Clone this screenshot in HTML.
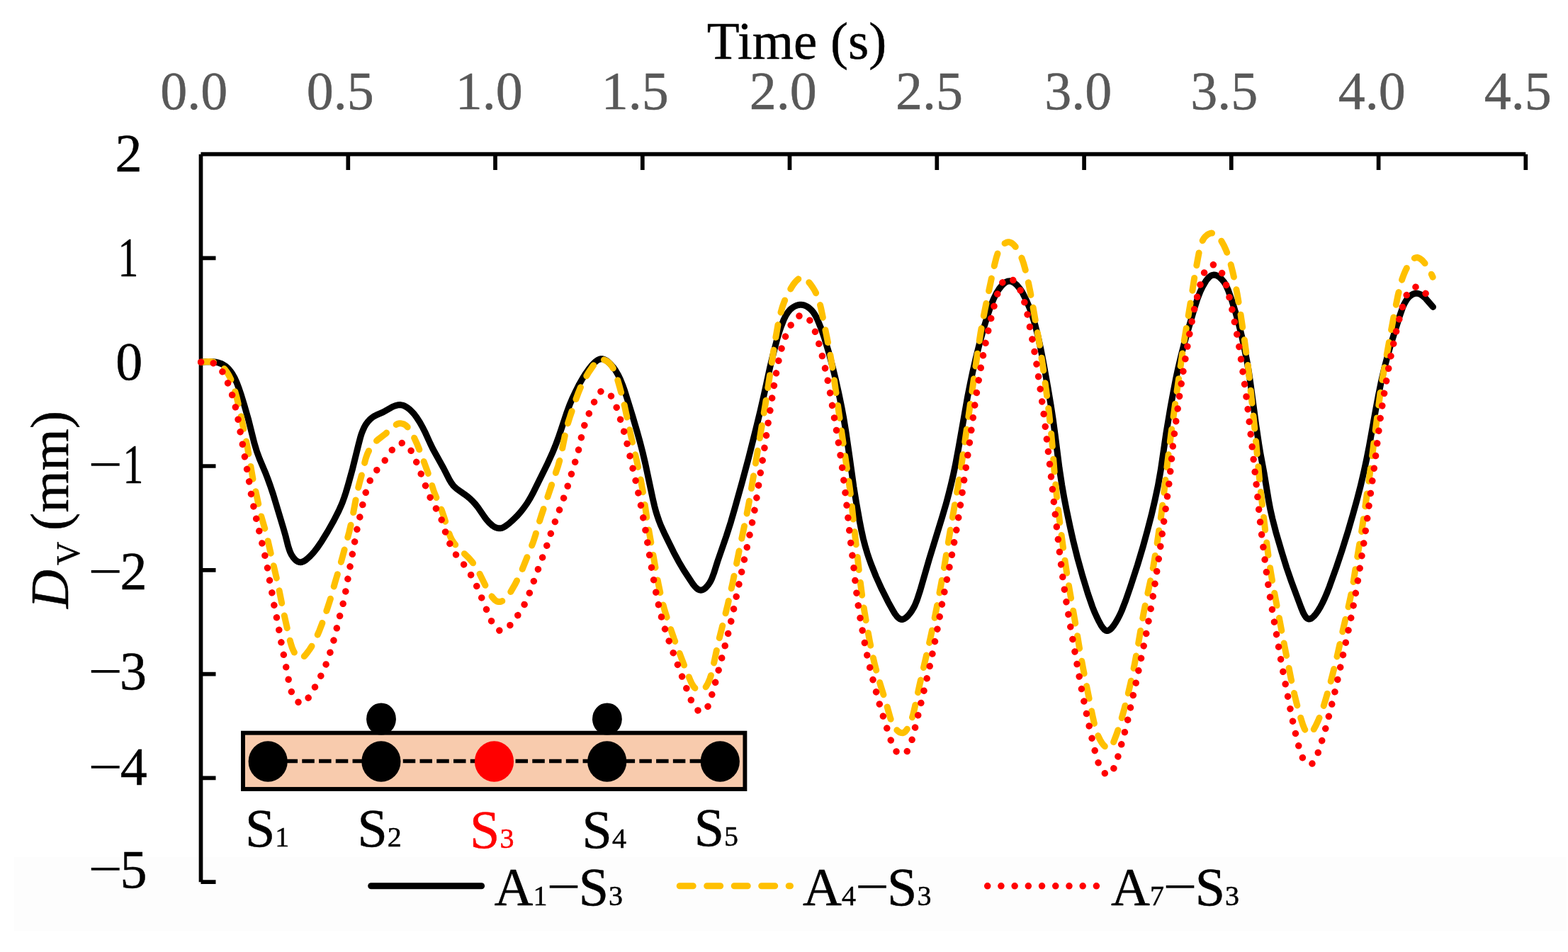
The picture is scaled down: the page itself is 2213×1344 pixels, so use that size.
<!DOCTYPE html>
<html><head><meta charset="utf-8"><title>Vertical displacement D_V versus time</title>
<style>html,body{margin:0;padding:0;background:#fff;}svg{display:block;}text{font-family:"Liberation Serif", "Times New Roman", serif;stroke-width:0.5px;stroke:#000;}text.g{stroke:#595959;}text.r{stroke:#FF0000;}</style></head>
<body><svg width="2213" height="1344" viewBox="0 0 2213 1344">
<rect width="2213" height="1344" fill="#fff"/>
<rect x="20" y="1210" width="2191" height="104" fill="#fdfdfd"/>
<text x="1124.5" y="83" font-size="75" text-anchor="middle">Time (s)</text>
<text x="273.8" y="153.5" font-size="76" text-anchor="middle" fill="#595959" class="g">0.0</text>
<text x="480.2" y="153.5" font-size="76" text-anchor="middle" fill="#595959" class="g">0.5</text>
<text x="690.2" y="153.5" font-size="76" text-anchor="middle" fill="#595959" class="g">1.0</text>
<text x="896.3" y="153.5" font-size="76" text-anchor="middle" fill="#595959" class="g">1.5</text>
<text x="1105.2" y="153.5" font-size="76" text-anchor="middle" fill="#595959" class="g">2.0</text>
<text x="1311.4" y="153.5" font-size="76" text-anchor="middle" fill="#595959" class="g">2.5</text>
<text x="1521.8" y="153.5" font-size="76" text-anchor="middle" fill="#595959" class="g">3.0</text>
<text x="1727.7" y="153.5" font-size="76" text-anchor="middle" fill="#595959" class="g">3.5</text>
<text x="1936.3" y="153.5" font-size="76" text-anchor="middle" fill="#595959" class="g">4.0</text>
<text x="2142.3" y="153.5" font-size="76" text-anchor="middle" fill="#595959" class="g">4.5</text>
<path d="M283.5,217.7 H2153.2 M283.5,217.7 V1245.2 M491.3,217.7 V240 M699.0,217.7 V240 M906.8,217.7 V240 M1114.5,217.7 V240 M1322.3,217.7 V240 M1530.1,217.7 V240 M1737.8,217.7 V240 M1945.6,217.7 V240 M2153.3,217.7 V240 M283.5,364.4 H304.5 M283.5,511.2 H304.5 M283.5,658.0 H304.5 M283.5,804.8 H304.5 M283.5,951.6 H304.5 M283.5,1098.4 H304.5 M283.5,1245.2 H304.5" stroke="#000" stroke-width="5.7" fill="none"/>
<text x="181.5" y="242.2" font-size="76" text-anchor="middle">2</text>
<text transform="translate(181.0,389.3) scale(0.76,1.04)" font-size="76" text-anchor="middle">1</text>
<text x="182.2" y="535.6" font-size="76" text-anchor="middle">0</text>
<text transform="translate(187.89999999999998,681.3) scale(0.76,1.03)" font-size="76" text-anchor="middle">1</text>
<text transform="translate(148.7,680.6) scale(1.13,1)" font-size="76" text-anchor="middle" style="stroke-width:0">−</text>
<text x="188.6" y="832.3" font-size="76" text-anchor="middle">2</text>
<text transform="translate(148.7,831.5) scale(1.13,1)" font-size="76" text-anchor="middle" style="stroke-width:0">−</text>
<text x="188.0" y="973.4" font-size="76" text-anchor="middle">3</text>
<text transform="translate(148.7,973.1) scale(1.13,1)" font-size="76" text-anchor="middle" style="stroke-width:0">−</text>
<text x="188.7" y="1108.2" font-size="76" text-anchor="middle">4</text>
<text transform="translate(148.7,1108.1) scale(1.13,1)" font-size="76" text-anchor="middle" style="stroke-width:0">−</text>
<text x="188.6" y="1252.6" font-size="76" text-anchor="middle">5</text>
<text transform="translate(148.7,1252.2) scale(1.13,1)" font-size="76" text-anchor="middle" style="stroke-width:0">−</text>
<text transform="translate(96,859) rotate(-90)" font-size="76"><tspan font-style="italic">D</tspan><tspan font-size="46" dx="6" dy="16">V</tspan><tspan dx="-3" dy="-16"> (mm)</tspan></text>
<path d="M283.5,511.2 L293.6,510.6 L300.5,510.7 L304.5,511.2 L307.4,511.8 L310.2,512.7 L313.0,513.8 L315.6,515.2 L318.1,516.8 L320.4,518.7 L323.2,521.5 L325.1,523.8 L327.4,527.1 L331.4,534.1 L334.3,540.6 L337.5,549.1 L340.4,557.7 L344.8,572.0 L350.3,591.2 L358.8,625.1 L362.5,637.5 L366.3,647.8 L374.1,666.2 L377.7,675.4 L381.4,685.6 L385.5,697.8 L399.8,745.2 L403.1,756.8 L406.5,770.4 L408.3,776.1 L409.7,779.8 L411.5,783.4 L413.7,786.8 L415.7,789.2 L417.8,791.2 L420.1,792.7 L422.5,793.6 L424.1,793.7 L425.8,793.5 L428.3,792.6 L430.8,791.1 L434.1,788.5 L437.2,785.7 L440.7,782.0 L444.1,778.1 L447.2,774.1 L454.0,764.2 L462.3,750.6 L471.1,735.0 L477.9,721.6 L480.8,715.2 L483.5,708.7 L485.9,702.0 L488.1,695.4 L491.5,683.9 L497.6,661.7 L506.0,627.6 L508.8,616.9 L510.3,612.2 L512.1,607.6 L514.1,603.1 L516.0,599.7 L518.8,595.8 L521.4,592.9 L524.2,590.3 L527.3,588.0 L530.8,586.2 L540.7,581.8 L553.9,574.3 L557.6,572.8 L561.4,571.8 L565.2,571.6 L567.9,572.1 L570.7,573.1 L574.1,574.9 L577.4,577.3 L581.0,580.7 L584.4,584.4 L588.0,589.2 L592.4,596.0 L596.8,603.9 L600.4,611.1 L607.4,626.5 L610.9,633.7 L626.0,661.0 L634.2,677.1 L637.2,682.1 L640.1,685.9 L642.1,687.9 L645.0,690.4 L655.4,697.7 L660.1,701.2 L663.9,704.4 L666.8,707.2 L670.8,711.6 L674.5,716.3 L683.6,729.5 L686.6,733.6 L690.7,738.2 L694.6,741.7 L697.1,743.4 L699.7,744.7 L702.3,745.6 L704.1,745.8 L705.9,745.8 L708.5,745.3 L711.1,744.2 L713.6,742.7 L718.5,739.0 L724.7,733.4 L730.4,727.7 L735.0,722.5 L739.3,717.0 L743.9,710.5 L748.1,703.7 L751.9,696.7 L771.9,656.3 L779.4,639.9 L783.6,629.8 L787.8,618.6 L791.7,607.2 L799.6,583.3 L804.5,570.2 L808.4,561.1 L813.1,551.2 L817.6,542.4 L822.0,534.6 L826.8,527.0 L831.0,521.1 L835.6,515.4 L840.1,510.9 L843.3,508.5 L844.9,507.7 L846.6,507.1 L848.2,506.7 L849.9,506.8 L851.6,507.1 L853.3,507.7 L855.0,508.5 L857.5,510.2 L861.3,513.7 L865.5,518.4 L869.0,523.4 L872.5,529.5 L875.5,535.8 L878.5,543.1 L881.5,551.4 L886.3,566.5 L893.1,588.5 L898.8,607.9 L903.1,623.5 L906.9,638.1 L910.8,654.6 L921.3,704.1 L923.8,714.8 L925.6,721.6 L927.7,728.3 L930.0,735.0 L932.5,741.5 L938.7,755.1 L950.9,779.8 L957.8,792.7 L964.9,804.7 L975.4,820.8 L978.0,824.6 L980.7,828.0 L982.8,830.2 L985.0,831.9 L987.2,832.9 L989.5,833.2 L991.0,832.8 L993.3,831.8 L995.6,830.1 L997.7,827.9 L999.6,825.6 L1001.4,823.0 L1002.9,820.4 L1004.7,816.8 L1007.5,809.3 L1012.9,792.1 L1025.1,756.9 L1031.5,736.8 L1036.8,718.5 L1047.5,680.2 L1056.3,647.4 L1066.6,606.6 L1073.0,580.3 L1078.4,556.8 L1086.7,518.7 L1090.9,501.2 L1097.2,477.2 L1099.8,468.6 L1102.4,461.0 L1106.1,451.5 L1109.3,445.1 L1112.6,440.1 L1114.5,437.8 L1116.6,435.8 L1119.0,434.0 L1121.5,432.5 L1124.2,431.3 L1126.1,430.7 L1128.9,430.2 L1130.8,430.2 L1132.7,430.4 L1135.5,431.2 L1138.2,432.3 L1140.7,433.9 L1143.1,435.8 L1146.0,438.6 L1147.9,440.9 L1150.1,444.3 L1152.1,447.8 L1153.8,451.4 L1159.2,464.5 L1164.0,478.6 L1169.5,496.9 L1174.7,516.3 L1179.2,534.9 L1184.0,556.2 L1187.8,574.6 L1190.7,590.1 L1193.6,607.7 L1199.0,644.8 L1204.8,686.7 L1208.6,710.0 L1213.2,735.7 L1215.7,748.5 L1218.3,760.3 L1221.1,771.0 L1223.9,780.6 L1226.4,788.1 L1229.4,796.5 L1236.4,814.0 L1244.6,832.1 L1253.4,849.6 L1260.8,862.9 L1263.1,866.6 L1265.6,869.9 L1267.5,872.0 L1269.5,873.5 L1271.6,874.4 L1273.7,874.4 L1275.9,873.7 L1278.9,871.8 L1281.8,869.0 L1284.5,865.7 L1286.9,862.3 L1289.5,857.9 L1291.7,853.4 L1294.0,847.8 L1298.7,833.5 L1311.4,789.4 L1329.6,730.4 L1335.3,711.1 L1338.9,697.5 L1342.3,683.8 L1345.5,670.0 L1348.4,656.3 L1352.6,633.9 L1365.5,560.7 L1369.0,543.0 L1372.7,525.4 L1377.4,505.0 L1382.8,483.7 L1388.6,462.5 L1394.4,443.5 L1398.2,432.2 L1402.3,422.1 L1406.3,413.9 L1410.1,407.9 L1412.7,404.6 L1414.8,402.2 L1417.1,400.1 L1419.4,398.4 L1421.9,397.2 L1423.6,396.9 L1425.3,396.8 L1427.0,397.2 L1428.7,397.8 L1431.1,399.2 L1433.5,401.0 L1435.7,403.1 L1439.6,407.8 L1441.8,411.1 L1443.8,414.6 L1448.9,424.7 L1453.2,435.0 L1457.2,446.4 L1461.0,459.0 L1464.9,474.5 L1468.8,492.2 L1473.0,513.8 L1478.8,546.3 L1483.1,571.8 L1486.3,592.6 L1489.1,613.5 L1495.1,661.0 L1498.8,685.3 L1501.7,701.8 L1505.1,719.4 L1510.5,744.9 L1514.9,764.4 L1521.0,788.8 L1527.8,813.1 L1535.3,837.7 L1541.7,856.3 L1544.7,863.8 L1547.7,870.5 L1551.1,877.4 L1553.8,882.4 L1556.2,886.0 L1558.7,888.8 L1560.6,890.1 L1562.6,890.6 L1564.7,890.1 L1566.7,888.8 L1568.8,886.9 L1571.4,883.7 L1574.5,879.1 L1577.7,873.5 L1580.5,868.0 L1583.0,862.5 L1588.8,847.6 L1595.6,827.9 L1605.5,797.4 L1613.2,771.6 L1619.3,749.4 L1624.9,727.9 L1629.9,706.5 L1634.3,686.0 L1638.3,663.3 L1645.8,611.8 L1651.9,575.4 L1655.9,553.7 L1659.3,536.0 L1662.9,519.3 L1666.8,502.8 L1670.7,487.3 L1675.3,471.0 L1685.5,436.0 L1690.3,421.0 L1694.0,411.6 L1697.6,404.1 L1702.0,396.6 L1704.0,394.0 L1706.0,391.7 L1708.2,389.8 L1710.5,388.6 L1712.9,388.0 L1715.4,388.3 L1717.9,389.2 L1721.1,391.3 L1724.1,394.1 L1726.8,397.2 L1728.5,399.6 L1730.5,403.1 L1733.7,410.4 L1738.7,424.6 L1743.8,441.1 L1748.4,457.6 L1752.7,475.2 L1756.7,493.8 L1760.2,511.5 L1762.5,525.3 L1764.7,540.1 L1772.8,600.5 L1776.9,628.1 L1779.0,640.8 L1784.1,668.0 L1790.5,706.5 L1792.9,719.3 L1795.8,732.0 L1800.8,751.4 L1809.2,780.1 L1815.9,801.6 L1822.7,821.2 L1836.3,857.7 L1839.4,865.3 L1841.4,868.9 L1843.5,871.8 L1845.2,873.2 L1846.9,874.0 L1848.8,873.8 L1850.2,873.3 L1851.5,872.5 L1854.3,870.0 L1857.0,866.8 L1860.2,862.3 L1863.5,856.9 L1866.3,851.5 L1869.3,845.2 L1872.9,836.9 L1876.5,827.6 L1886.3,800.2 L1894.2,776.6 L1902.5,750.1 L1909.5,726.1 L1915.4,704.8 L1920.4,685.3 L1925.2,664.7 L1928.8,648.0 L1932.3,630.3 L1942.0,576.4 L1945.7,556.8 L1949.5,538.2 L1953.6,520.7 L1958.1,503.3 L1963.3,485.1 L1975.5,445.9 L1979.5,434.5 L1981.5,429.9 L1983.4,426.3 L1985.5,422.9 L1988.1,419.7 L1991.1,417.1 L1993.6,415.5 L1996.2,414.5 L1998.9,414.1 L2000.7,414.2 L2003.4,415.0 L2006.0,416.3 L2008.4,418.0 L2010.7,420.0 L2012.8,422.2 L2022.5,433.4" stroke="#000" stroke-width="9" fill="none" stroke-linejoin="round" stroke-linecap="round"/>
<path d="M283.5,511.2 L293.8,510.5 L299.6,510.8 L302.4,511.4 L305.1,512.3 L307.7,513.5 L311.0,515.6 L314.0,518.1 L316.8,520.9 L319.3,524.0 L321.5,527.3 L323.5,530.8 L325.7,535.2 L329.2,544.6 L331.6,552.2 L334.1,560.9 L338.2,578.4 L349.0,630.2 L357.1,677.0 L362.3,700.2 L366.3,719.0 L368.7,728.8 L374.1,747.3 L376.1,755.0 L391.2,820.0 L393.5,830.7 L400.2,864.3 L409.0,903.2 L410.6,909.1 L412.2,914.0 L413.7,917.8 L415.6,921.5 L417.9,924.8 L419.8,926.9 L422.0,928.4 L424.2,929.0 L425.6,928.8 L427.8,927.7 L429.2,926.6 L431.3,924.4 L433.9,921.2 L436.9,917.0 L439.7,912.7 L442.7,907.4 L447.2,898.5 L450.8,890.2 L454.0,881.9 L461.3,861.1 L466.6,844.8 L472.7,822.7 L480.0,798.6 L492.6,751.9 L494.9,742.1 L497.3,731.1 L503.0,700.6 L505.1,690.9 L507.0,683.1 L511.6,666.5 L514.8,652.7 L516.3,646.9 L518.6,640.4 L521.6,634.3 L525.3,628.8 L527.8,625.8 L529.8,623.8 L533.4,620.6 L543.6,612.8 L555.8,601.8 L558.2,600.0 L560.7,598.6 L562.4,598.0 L564.2,597.7 L566.0,597.8 L568.7,598.3 L570.4,599.0 L572.8,600.5 L574.2,601.8 L576.2,603.9 L579.6,609.0 L584.6,618.1 L588.4,626.3 L592.6,636.6 L603.3,665.5 L612.1,693.0 L614.6,699.5 L621.0,714.5 L623.6,721.0 L627.2,731.5 L633.3,751.7 L635.4,757.2 L637.5,761.6 L640.0,765.6 L643.7,770.2 L647.8,774.4 L661.4,787.5 L666.0,792.7 L669.6,797.5 L672.9,802.5 L675.8,807.7 L685.0,826.5 L688.3,832.9 L691.5,838.2 L695.1,843.4 L698.5,847.1 L700.0,848.2 L701.5,849.0 L704.0,849.6 L705.7,849.5 L707.4,849.1 L709.9,848.0 L712.2,846.3 L714.4,844.4 L716.3,842.1 L720.8,835.4 L727.4,823.9 L732.5,813.9 L736.7,804.7 L752.3,765.9 L755.1,757.4 L760.5,739.0 L764.1,727.5 L787.7,657.6 L789.9,649.9 L791.6,643.1 L797.8,612.5 L801.1,598.9 L804.7,587.5 L813.1,563.0 L816.2,554.6 L819.2,547.2 L824.0,537.3 L830.6,526.0 L836.9,516.7 L839.5,513.5 L841.5,511.2 L843.7,509.4 L845.2,508.5 L846.9,507.9 L848.5,507.6 L850.2,507.6 L852.8,508.1 L854.5,508.8 L857.0,510.2 L860.0,512.6 L863.2,516.4 L865.8,520.7 L868.3,526.3 L871.3,535.1 L874.4,545.7 L878.3,560.0 L881.6,573.6 L889.7,611.9 L900.1,657.1 L904.3,677.3 L907.8,696.7 L914.3,740.3 L927.0,812.6 L929.6,826.3 L932.1,838.0 L934.9,849.7 L938.0,861.3 L943.9,880.4 L951.4,902.0 L966.8,942.4 L974.4,960.9 L976.2,964.7 L977.8,967.4 L979.4,969.8 L981.3,971.8 L983.4,973.4 L985.0,974.1 L987.5,974.8 L989.2,974.8 L990.8,974.4 L993.0,973.1 L995.1,971.2 L996.8,968.8 L998.9,965.1 L1000.7,961.3 L1002.1,957.5 L1003.7,952.7 L1006.1,943.0 L1014.0,905.9 L1027.2,853.4 L1033.8,823.9 L1043.3,777.1 L1053.3,729.3 L1058.2,703.6 L1080.5,569.3 L1093.3,485.3 L1098.1,457.9 L1101.3,443.5 L1104.3,433.1 L1106.3,427.4 L1108.2,422.7 L1110.9,417.0 L1113.4,412.1 L1116.2,407.2 L1119.2,402.3 L1121.9,398.7 L1123.9,396.4 L1126.0,394.4 L1128.2,392.9 L1130.4,392.1 L1131.8,391.8 L1134.0,392.1 L1135.5,392.8 L1137.7,394.3 L1140.5,397.1 L1143.8,401.1 L1146.8,405.3 L1149.4,409.5 L1151.7,413.9 L1153.4,417.5 L1155.1,422.1 L1157.1,428.8 L1159.0,436.6 L1168.8,485.0 L1171.6,499.8 L1174.3,515.6 L1177.0,533.3 L1188.1,612.0 L1199.3,688.8 L1201.3,705.4 L1205.6,745.7 L1214.1,820.9 L1217.0,843.3 L1219.8,862.1 L1223.7,884.8 L1227.5,905.5 L1231.1,923.1 L1234.7,938.7 L1238.8,954.2 L1242.8,967.6 L1250.7,992.6 L1256.2,1012.5 L1258.2,1018.4 L1259.7,1022.1 L1261.1,1024.7 L1263.2,1027.9 L1265.1,1030.1 L1267.2,1032.1 L1269.5,1033.7 L1271.9,1034.6 L1274.1,1034.7 L1275.6,1034.2 L1277.6,1032.8 L1279.4,1030.6 L1281.1,1028.0 L1283.1,1024.3 L1285.2,1019.5 L1286.9,1014.6 L1288.7,1008.8 L1290.6,1000.9 L1297.7,967.7 L1312.8,902.3 L1317.4,880.8 L1322.7,854.3 L1328.1,825.7 L1332.7,800.2 L1340.8,751.1 L1351.0,692.4 L1356.4,660.0 L1361.2,628.0 L1380.0,495.9 L1383.9,470.4 L1386.7,454.6 L1390.1,437.0 L1400.3,388.5 L1403.7,373.6 L1406.2,363.6 L1408.1,357.7 L1410.6,352.2 L1412.1,349.7 L1413.9,347.3 L1416.0,345.2 L1418.3,343.4 L1420.7,342.2 L1422.3,341.8 L1423.8,341.7 L1426.2,342.3 L1427.6,343.0 L1429.8,344.6 L1431.9,346.7 L1433.8,349.1 L1435.6,351.8 L1437.9,355.5 L1439.8,359.3 L1441.9,364.1 L1444.6,371.7 L1447.3,381.4 L1450.6,395.0 L1454.0,411.6 L1459.5,442.0 L1467.3,487.1 L1472.3,520.2 L1477.4,557.5 L1480.8,585.3 L1483.8,613.6 L1485.4,631.6 L1488.9,675.4 L1491.8,704.4 L1496.2,741.3 L1502.5,788.1 L1507.6,821.9 L1517.2,877.0 L1524.2,919.4 L1528.9,945.0 L1541.5,1008.3 L1544.3,1021.2 L1546.7,1030.1 L1548.6,1035.8 L1550.5,1040.4 L1552.8,1044.9 L1554.9,1048.3 L1557.3,1051.6 L1560.0,1054.4 L1561.4,1055.5 L1562.7,1056.2 L1564.7,1056.6 L1565.9,1056.2 L1567.1,1055.4 L1568.2,1054.2 L1569.2,1052.6 L1571.6,1047.8 L1575.3,1038.2 L1579.1,1027.3 L1582.6,1015.8 L1586.6,1001.5 L1590.6,986.2 L1596.0,962.9 L1601.3,937.7 L1605.3,916.2 L1611.2,881.6 L1614.2,864.8 L1617.6,848.1 L1624.6,815.7 L1627.7,800.0 L1632.5,771.4 L1638.3,731.3 L1641.3,708.6 L1647.7,653.0 L1652.9,611.6 L1661.1,552.0 L1671.4,480.7 L1680.7,424.4 L1686.1,389.7 L1690.4,366.0 L1692.9,352.8 L1694.4,346.7 L1696.5,341.0 L1698.8,336.8 L1701.2,333.8 L1704.1,331.3 L1707.2,329.7 L1708.8,329.2 L1710.4,329.1 L1712.7,329.4 L1714.2,330.0 L1715.7,330.9 L1718.5,333.2 L1721.1,336.2 L1724.1,340.7 L1727.4,346.6 L1730.1,352.6 L1732.9,359.5 L1735.2,366.3 L1737.1,373.2 L1739.6,383.0 L1741.8,392.8 L1746.4,416.4 L1751.0,443.9 L1756.4,480.2 L1761.1,514.6 L1764.1,541.3 L1771.0,606.5 L1777.2,672.9 L1779.3,693.7 L1788.4,772.0 L1790.9,790.7 L1793.6,808.4 L1798.6,836.7 L1812.9,912.0 L1822.0,957.8 L1827.0,980.7 L1829.9,992.5 L1833.0,1004.1 L1836.4,1015.7 L1839.0,1023.8 L1841.1,1028.9 L1843.3,1032.9 L1845.2,1035.0 L1846.2,1035.6 L1847.1,1035.9 L1848.2,1035.8 L1849.2,1035.4 L1850.3,1034.6 L1851.8,1033.0 L1854.5,1029.2 L1857.1,1024.4 L1860.5,1017.1 L1864.2,1008.0 L1867.4,999.1 L1870.4,989.4 L1877.3,965.6 L1884.2,938.8 L1887.7,924.1 L1895.5,888.8 L1903.1,856.5 L1906.3,842.0 L1910.4,819.7 L1914.9,791.1 L1921.2,753.3 L1923.9,735.5 L1934.0,664.1 L1947.6,558.1 L1950.3,539.3 L1962.9,469.4 L1968.2,440.9 L1972.9,417.4 L1976.9,401.0 L1978.8,394.3 L1981.2,387.7 L1983.6,382.1 L1986.4,376.5 L1989.9,371.0 L1992.5,367.7 L1995.3,365.1 L1996.8,364.2 L1998.3,363.7 L2000.6,363.6 L2002.2,364.1 L2003.8,364.8 L2006.9,367.1 L2009.8,370.2 L2013.1,374.3 L2015.9,378.7 L2018.8,384.1 L2022.2,391.2" stroke="#FFC000" stroke-width="9" fill="none" stroke-linejoin="round" stroke-linecap="round" stroke-dasharray="18 18"/>
<path d="M283.6,511.2 L292.7,511.1 L296.6,511.5 L299.4,512.1 L302.1,513.1 L305.4,515.1 L307.6,516.9 L310.4,519.8 L312.8,523.0 L314.9,526.4 L317.2,530.8 L319.3,535.4 L322.0,541.9 L324.9,549.4 L327.5,557.1 L329.5,563.8 L333.0,577.2 L336.6,594.8 L340.1,615.7 L343.5,633.4 L346.3,650.3 L350.2,671.0 L354.2,696.1 L356.0,706.0 L361.6,731.9 L372.5,778.1 L376.6,796.6 L380.4,818.6 L383.6,835.3 L386.8,854.2 L392.8,883.6 L396.8,906.3 L408.7,967.2 L409.9,972.1 L411.1,976.0 L412.5,979.7 L413.8,982.5 L415.4,985.0 L417.2,987.5 L419.2,989.7 L421.4,991.5 L423.6,992.7 L425.2,993.0 L426.7,992.9 L428.2,992.3 L429.6,991.4 L431.0,990.2 L433.1,988.0 L435.0,985.4 L441.8,974.8 L449.7,960.7 L456.2,947.2 L461.7,934.2 L464.9,924.7 L472.1,900.1 L478.3,874.5 L485.0,849.2 L487.2,838.4 L492.8,806.5 L504.1,746.2 L512.6,709.2 L515.2,698.8 L517.4,691.2 L519.3,685.5 L521.6,679.9 L524.2,674.5 L526.8,670.2 L531.0,664.6 L540.0,653.9 L543.8,649.3 L547.8,643.6 L554.0,634.2 L557.2,630.3 L560.1,627.8 L561.7,626.9 L563.4,626.2 L565.2,625.7 L567.0,625.5 L569.6,625.7 L572.1,626.5 L574.3,628.0 L576.8,630.8 L579.1,634.3 L583.9,643.7 L588.4,653.9 L596.9,675.9 L603.1,692.9 L606.2,700.3 L610.2,708.4 L618.9,724.2 L622.2,731.3 L624.3,736.8 L628.3,750.2 L631.0,757.8 L634.3,766.3 L637.7,773.5 L640.6,778.7 L644.5,784.5 L648.1,789.3 L655.9,798.5 L659.5,803.3 L663.2,809.1 L667.1,816.1 L671.2,824.1 L675.3,833.1 L690.9,871.1 L693.5,876.6 L696.0,881.1 L697.8,883.7 L699.7,886.2 L701.8,888.3 L703.2,889.4 L704.8,890.1 L706.4,890.6 L708.0,890.6 L709.7,890.2 L713.0,888.6 L717.1,885.5 L721.4,881.1 L725.2,876.4 L731.1,868.2 L737.6,858.0 L741.5,850.9 L744.8,843.6 L748.1,835.2 L756.1,812.8 L772.0,769.7 L779.5,746.8 L785.2,731.9 L798.1,696.3 L814.4,643.4 L816.9,633.6 L822.2,609.4 L824.0,602.8 L826.6,595.3 L831.9,582.4 L840.9,562.5 L843.3,557.8 L845.6,554.7 L847.6,552.9 L849.9,551.8 L852.4,551.5 L854.1,551.7 L856.4,552.9 L857.9,554.0 L860.0,556.0 L861.9,558.3 L863.6,560.8 L867.0,567.0 L869.7,573.7 L872.6,582.3 L879.9,606.3 L883.1,618.0 L897.3,679.4 L903.4,707.6 L910.8,747.2 L919.0,798.4 L925.1,832.9 L928.3,848.6 L931.5,863.2 L934.0,872.9 L937.0,883.5 L942.6,900.5 L951.0,924.0 L971.0,977.6 L976.8,992.0 L978.6,995.7 L980.2,998.2 L981.9,1000.4 L983.2,1001.6 L985.4,1003.2 L987.0,1003.9 L989.3,1004.6 L990.9,1004.7 L993.1,1004.3 L994.4,1003.6 L995.6,1002.6 L997.3,1000.6 L998.7,998.1 L1000.0,995.3 L1003.2,986.2 L1009.8,962.8 L1025.4,903.4 L1029.5,887.0 L1033.1,871.3 L1040.9,834.2 L1059.0,750.7 L1063.9,726.2 L1067.0,708.6 L1072.7,671.2 L1077.8,640.2 L1084.3,595.9 L1093.5,537.7 L1097.8,514.3 L1100.2,503.6 L1102.5,493.9 L1105.9,482.3 L1109.4,472.8 L1111.9,467.3 L1114.6,461.8 L1117.1,457.3 L1119.3,453.9 L1121.2,451.5 L1123.3,449.3 L1125.6,447.5 L1128.1,446.0 L1130.6,445.2 L1132.3,445.0 L1134.0,445.1 L1136.4,446.1 L1138.7,447.7 L1140.8,449.8 L1142.8,452.2 L1145.0,455.7 L1146.9,459.3 L1148.6,463.0 L1152.3,473.3 L1157.4,490.7 L1162.6,511.2 L1167.0,530.8 L1171.3,553.1 L1182.6,620.0 L1186.3,644.0 L1188.7,660.8 L1194.1,704.7 L1199.7,758.2 L1204.2,794.6 L1208.3,832.5 L1211.0,853.3 L1213.6,870.1 L1218.7,898.7 L1221.8,915.4 L1224.9,930.0 L1227.8,942.7 L1232.9,963.2 L1239.3,987.3 L1248.1,1016.8 L1257.3,1045.1 L1261.2,1054.9 L1263.1,1058.4 L1264.8,1060.7 L1266.8,1062.6 L1269.0,1064.0 L1271.5,1064.8 L1273.2,1064.8 L1274.9,1064.5 L1277.3,1063.4 L1279.4,1061.7 L1281.2,1059.5 L1282.7,1057.0 L1283.9,1054.3 L1286.6,1046.4 L1291.3,1028.2 L1309.0,954.3 L1313.5,934.8 L1318.2,912.2 L1322.3,891.5 L1330.7,846.3 L1343.4,783.6 L1350.0,747.3 L1353.4,726.6 L1357.0,702.6 L1368.3,625.6 L1376.2,568.8 L1379.5,547.1 L1383.6,522.8 L1386.8,505.3 L1391.9,479.8 L1396.4,459.1 L1401.3,438.7 L1405.5,422.3 L1408.7,411.6 L1411.3,404.8 L1413.3,401.1 L1415.0,398.6 L1416.9,396.3 L1419.0,394.5 L1421.2,393.4 L1422.8,393.0 L1424.4,393.1 L1426.8,393.8 L1429.2,395.1 L1431.6,396.9 L1433.7,399.1 L1436.2,402.4 L1438.3,405.9 L1440.0,409.5 L1441.9,414.2 L1443.9,420.0 L1447.0,430.6 L1450.1,444.2 L1456.2,475.6 L1460.4,498.5 L1463.0,514.3 L1469.3,556.7 L1473.6,588.2 L1482.1,660.2 L1487.9,713.8 L1495.9,783.7 L1500.6,820.7 L1504.9,849.6 L1511.5,889.1 L1524.0,959.8 L1528.1,981.5 L1533.9,1010.0 L1541.9,1046.1 L1545.9,1062.6 L1549.3,1074.3 L1550.6,1078.2 L1552.2,1082.0 L1554.1,1085.6 L1555.9,1088.1 L1557.8,1090.4 L1559.9,1092.3 L1562.1,1093.5 L1564.2,1093.8 L1566.2,1093.1 L1567.4,1092.1 L1568.6,1090.8 L1570.7,1087.3 L1573.4,1081.3 L1575.3,1076.3 L1577.5,1069.4 L1586.4,1037.8 L1591.6,1016.7 L1602.8,965.8 L1611.6,924.5 L1617.6,895.2 L1624.1,859.9 L1627.7,839.2 L1633.4,801.9 L1637.3,775.1 L1649.2,688.4 L1651.2,671.2 L1655.4,629.2 L1658.1,606.6 L1665.5,553.0 L1670.2,522.3 L1679.3,468.8 L1683.0,449.2 L1686.9,430.8 L1691.5,411.3 L1696.0,394.6 L1698.7,386.9 L1700.0,384.2 L1701.5,381.6 L1704.0,378.5 L1706.9,375.9 L1708.4,374.9 L1710.0,374.2 L1712.4,373.8 L1714.7,374.2 L1717.0,375.4 L1719.1,377.2 L1721.7,380.4 L1723.8,383.9 L1725.6,387.6 L1727.5,392.2 L1729.0,396.9 L1731.5,405.6 L1733.8,414.3 L1738.5,435.0 L1744.6,465.5 L1749.1,491.0 L1751.8,508.8 L1758.9,559.0 L1761.6,581.3 L1772.9,681.8 L1777.7,729.5 L1779.6,746.5 L1788.0,812.8 L1791.6,837.4 L1795.7,862.0 L1807.5,930.1 L1811.3,950.8 L1822.7,1009.6 L1826.3,1026.2 L1830.1,1042.8 L1834.8,1060.4 L1836.4,1065.3 L1838.0,1069.0 L1839.9,1072.4 L1842.4,1075.4 L1845.3,1077.7 L1846.8,1078.5 L1848.3,1078.9 L1850.5,1078.8 L1851.8,1078.2 L1853.0,1077.2 L1855.3,1074.2 L1857.2,1070.4 L1859.7,1064.3 L1862.1,1057.3 L1867.4,1040.1 L1871.0,1027.7 L1877.7,1002.7 L1884.0,976.5 L1893.2,935.4 L1903.5,887.7 L1907.6,868.2 L1911.0,850.4 L1915.6,824.7 L1924.7,767.4 L1928.9,737.9 L1933.8,700.5 L1940.2,654.7 L1947.6,594.1 L1951.9,565.5 L1958.5,526.8 L1963.1,502.1 L1969.6,472.0 L1976.2,444.9 L1978.6,436.2 L1981.2,427.4 L1983.6,420.6 L1985.5,416.0 L1987.5,412.6 L1990.0,409.6 L1992.9,407.1 L1995.4,405.8 L1997.1,405.3 L1998.8,405.0 L2001.3,405.2 L2003.8,406.1 L2006.9,408.3 L2009.8,411.3 L2013.0,415.5 L2015.7,419.9 L2018.9,426.0" stroke="#FF0000" stroke-width="9.5" fill="none" stroke-linejoin="round" stroke-linecap="round" stroke-dasharray="0.01 17.8"/>
<rect x="343" y="1034.7" width="708.4" height="79.3" fill="#F8CBAD" stroke="#000" stroke-width="5.9"/>
<path d="M378.8,1074.5 H537.9" stroke="#000" stroke-width="5.6" stroke-dasharray="17.5 6.25" fill="none"/>
<path d="M545.0,1074.5 H697.5" stroke="#000" stroke-width="5.6" stroke-dasharray="17.5 6.25" fill="none"/>
<path d="M703.8,1074.5 H856.7" stroke="#000" stroke-width="5.6" stroke-dasharray="17.5 6.25" fill="none"/>
<path d="M878.6,1074.5 H1016.3" stroke="#000" stroke-width="5.6" stroke-dasharray="17.5 6.25" fill="none"/>
<ellipse cx="378.2" cy="1075" rx="27.6" ry="28.8" fill="#000"/>
<ellipse cx="537.9" cy="1075" rx="27.6" ry="28.8" fill="#000"/>
<ellipse cx="697.5" cy="1075" rx="27.6" ry="28.8" fill="#FF0000"/>
<ellipse cx="856.7" cy="1075" rx="27.6" ry="28.8" fill="#000"/>
<ellipse cx="1016.3" cy="1075" rx="27.6" ry="28.8" fill="#000"/>
<ellipse cx="538.0" cy="1015" rx="20.9" ry="22.6" fill="#000"/>
<ellipse cx="856.9" cy="1015" rx="20.9" ry="22.6" fill="#000"/>
<text x="346.0" y="1194.5" font-size="76" fill="#000">S<tspan font-size="40">1</tspan></text>
<text x="504.5" y="1195.0" font-size="76" fill="#000">S<tspan font-size="40">2</tspan></text>
<text x="663.1" y="1196.8" font-size="76" fill="#FF0000" class="r">S<tspan font-size="40">3</tspan></text>
<text x="821.6" y="1196.8" font-size="76" fill="#000">S<tspan font-size="40">4</tspan></text>
<text x="979.7" y="1194.0" font-size="76" fill="#000">S<tspan font-size="40">5</tspan></text>
<path d="M523.7,1250.8 H679.6" stroke="#000" stroke-width="9" stroke-linecap="round"/>
<path d="M959.2,1250.8 H1115.5" stroke="#FFC000" stroke-width="9" stroke-linecap="round" stroke-dasharray="19 19.5"/>
<path d="M1393.7,1250.8 H1550" stroke="#FF0000" stroke-width="9.5" stroke-linecap="round" stroke-dasharray="0.01 19.2"/>
<text x="697.6" y="1277.6" font-size="76">A<tspan font-size="40">1</tspan></text>
<text transform="translate(795.4,1276.8) scale(1.12,1)" font-size="76" text-anchor="middle" style="stroke-width:0">−</text>
<text x="816.7" y="1277.6" font-size="76">S<tspan font-size="40">3</tspan></text>
<text x="1133.1" y="1277.6" font-size="76">A<tspan font-size="40">4</tspan></text>
<text transform="translate(1230.9,1276.8) scale(1.12,1)" font-size="76" text-anchor="middle" style="stroke-width:0">−</text>
<text x="1252.1" y="1277.6" font-size="76">S<tspan font-size="40">3</tspan></text>
<text x="1568.0" y="1277.6" font-size="76">A<tspan font-size="40">7</tspan></text>
<text transform="translate(1665.4,1276.8) scale(1.12,1)" font-size="76" text-anchor="middle" style="stroke-width:0">−</text>
<text x="1686.7" y="1277.6" font-size="76">S<tspan font-size="40">3</tspan></text>
</svg></body></html>
